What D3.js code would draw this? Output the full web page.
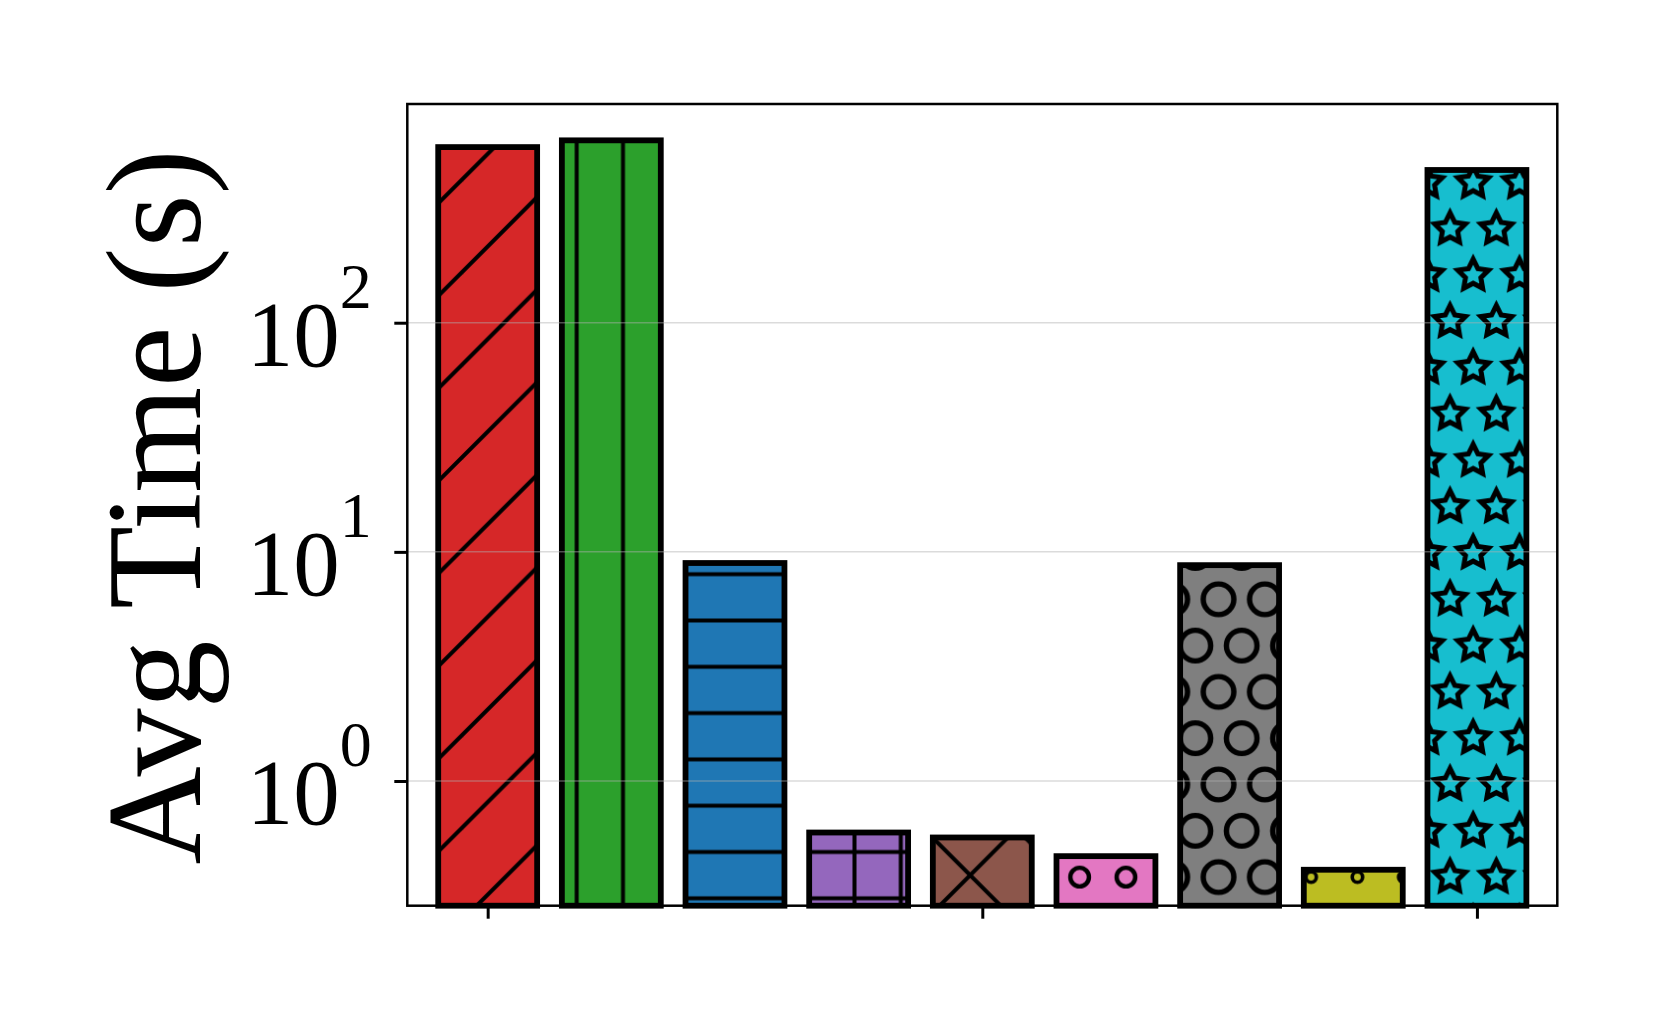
<!DOCTYPE html>
<html>
<head>
<meta charset="utf-8">
<title>Avg Time (s)</title>
<script src="https://d3js.org/d3.v7.min.js"></script>
<style>
  body { margin: 0; background: #fff; }
  svg { display: block; }
  text { font-family: "Liberation Serif", "Times New Roman", serif; fill: #000; }
</style>
</head>
<body>
<script>
// values
const categories = ["m1", "m2", "m3", "m4", "m5", "m6", "m7", "m8", "m9"];
const avgTimes = [584, 625, 8.94, 0.596, 0.567, 0.470, 8.75, 0.410, 464];
const barColors = ["#d62728", "#2ca02c", "#1f77b4", "#9467bd", "#8c564b",
                   "#e377c2", "#7f7f7f", "#bcbd22", "#17becf"];
const hatches = ["/", "|", "-", "+", "x", "o", "O", ".", "*"];
const yTicks = [1, 10, 100];
const yTickExp = ["0", "1", "2"];
const xTicks = [0, 4, 8];

const width = 1661, height = 1024;
const plot = {left: 407.3, right: 1557.3, top: 104, bottom: 905.7};

const svg = d3.select("body").append("svg")
    .attr("width", width)
    .attr("height", height)
    .attr("viewBox", [0, 0, width, height]);

svg.append("rect").attr("width", width).attr("height", height).attr("fill", "#fff");

const x = d3.scaleLinear().domain([-0.65, 8.65]).range([plot.left, plot.right]);
const y = d3.scaleLog().domain([0.2857, 900.5]).range([plot.bottom, plot.top]);

// hatch patterns, all on one page-wide grid (like matplotlib)
const h = 46.3;
const hatchLw = 4;
const defs = svg.append("defs");
const mod = (a, m) => ((a % m) + m) % m;

function linePattern(id, kinds) {
  const s = 2 * h;
  const p = defs.append("pattern").attr("id", id)
      .attr("patternUnits", "userSpaceOnUse");
  if (kinds.includes("/") || kinds.includes("\\")) {
    // "/" lines: x + y = 1012 (mod 2h), "\" lines: x - y = 95 (mod 2h)
    p.attr("width", s).attr("height", s).attr("x", 0).attr("y", 0);
    if (kinds.includes("/")) {
      const c0 = mod(1012, s);
      for (let k = -1; k <= 2; k++) {
        const c = c0 + k * s;
        p.append("line").attr("x1", -s).attr("y1", c + s)
          .attr("x2", 2 * s).attr("y2", c - 2 * s);
      }
    }
    if (kinds.includes("\\")) {
      const c0 = mod(95, s);
      for (let k = -2; k <= 1; k++) {
        const c = c0 + k * s;
        p.append("line").attr("x1", -s).attr("y1", -s - c)
          .attr("x2", 2 * s).attr("y2", 2 * s - c);
      }
    }
  } else {
    p.attr("width", h).attr("height", h)
      .attr("x", 623 - h / 2).attr("y", 898.3 - h / 2);
    if (kinds.includes("|")) {
      p.append("line").attr("x1", h / 2).attr("y1", -1).attr("x2", h / 2).attr("y2", h + 1);
    }
    if (kinds.includes("-")) {
      p.append("line").attr("x1", -1).attr("y1", h / 2).attr("x2", h + 1).attr("y2", h / 2);
    }
  }
  p.selectAll("line").attr("stroke", "#000").attr("stroke-width", hatchLw);
}

function starPath(r) {
  const pts = d3.range(11).map(i => {
    const t = Math.PI / 2 + i * Math.PI / 5;
    const rr = i % 2 ? r * 0.5 : r;
    return [rr * Math.cos(t), -rr * Math.sin(t)];
  });
  return "M" + pts.map(p => p.join(",")).join("L") + "Z";
}

function shapePattern(id, kind) {
  const p = defs.append("pattern").attr("id", id)
      .attr("patternUnits", "userSpaceOnUse")
      .attr("width", h).attr("height", 2 * h)
      .attr("x", 1241.7).attr("y", 553);
  const centres = [[0, 0], [h, 0], [0, 2 * h], [h, 2 * h], [h / 2, h]];
  centres.forEach(([cx, cy]) => {
    const g = p.append("g").attr("transform", `translate(${cx},${cy})`)
        .attr("fill", "none").attr("stroke", "#000");
    if (kind === "O") {
      g.append("circle").attr("r", 15.3).attr("stroke-width", 5.4);
    } else if (kind === "o") {
      g.append("circle").attr("r", 9.3).attr("stroke-width", 4.4);
    } else if (kind === ".") {
      g.append("circle").attr("r", 5.2).attr("stroke-width", 3.6);
    } else if (kind === "*") {
      g.append("path").attr("d", starPath(17)).attr("stroke-width", 4.2);
      g.append("path").attr("d", starPath(17 * 0.9)).attr("stroke-width", 4.2);
    }
  });
}

hatches.forEach((k, i) => {
  const id = "hatch" + i;
  if (k === "x") linePattern(id, "/\\");
  else if (k === "+") linePattern(id, "|-");
  else if ("/\\|-".includes(k)) linePattern(id, k);
  else shapePattern(id, k);
});

// bars: colour fill, hatch overlay, black edge
const bars = svg.append("g").selectAll("g")
  .data(avgTimes)
  .join("g");

const barX = (d, i) => x(i - 0.4);
const barW = (d, i) => x(i + 0.4) - x(i - 0.4);

bars.append("rect")
    .attr("x", barX).attr("width", barW)
    .attr("y", d => y(d)).attr("height", d => y.range()[0] - y(d))
    .attr("fill", (d, i) => barColors[i]);

bars.append("rect")
    .attr("x", barX).attr("width", barW)
    .attr("y", d => y(d)).attr("height", d => y.range()[0] - y(d))
    .attr("fill", (d, i) => `url(#hatch${i})`);

bars.append("rect")
    .attr("x", barX).attr("width", barW)
    .attr("y", d => y(d)).attr("height", d => y.range()[0] - y(d))
    .attr("fill", "none")
    .attr("stroke", "#000")
    .attr("stroke-width", 5.8);

// grid sits over the bars, as in the original
svg.append("g").selectAll("line")
  .data(yTicks)
  .join("line")
    .attr("x1", plot.left).attr("x2", plot.right)
    .attr("y1", d => y(d)).attr("y2", d => y(d))
    .attr("stroke", "#b0b0b0")
    .attr("stroke-opacity", 0.45)
    .attr("stroke-width", 1.5);

// axes
const yAxis = svg.append("g")
    .attr("transform", `translate(${plot.left},0)`)
    .call(d3.axisLeft(y).tickValues(yTicks).tickSize(13).tickFormat(""));
yAxis.select(".domain").remove();
yAxis.selectAll(".tick line").attr("stroke", "#000").attr("stroke-width", 3);

const xAxis = svg.append("g")
    .attr("transform", `translate(0,${plot.bottom})`)
    .call(d3.axisBottom(x).tickValues(xTicks).tickSize(13).tickFormat(""));
xAxis.select(".domain").remove();
xAxis.selectAll(".tick line").attr("stroke", "#000").attr("stroke-width", 3);

// tick labels 10^n
const labels = svg.append("g").selectAll("text")
  .data(yTicks)
  .join("text")
    .attr("x", plot.left - 35.5)
    .attr("y", d => y(d) + 43.3)
    .attr("text-anchor", "end");
labels.append("tspan").attr("font-size", 93).text("10");
labels.append("tspan").attr("font-size", 64).attr("dy", -58).text((d, i) => yTickExp[i]);

// frame
svg.append("rect")
    .attr("x", plot.left).attr("y", plot.top)
    .attr("width", plot.right - plot.left).attr("height", plot.bottom - plot.top)
    .attr("fill", "none").attr("stroke", "#000").attr("stroke-width", 2.5);

// y label
svg.append("text")
    .attr("transform", `translate(200,${(plot.top + plot.bottom) / 2 + 2}) rotate(-90)`)
    .attr("text-anchor", "middle")
    .attr("font-size", 136)
    .text("Avg Time (s)");
</script>
</body>
</html>
